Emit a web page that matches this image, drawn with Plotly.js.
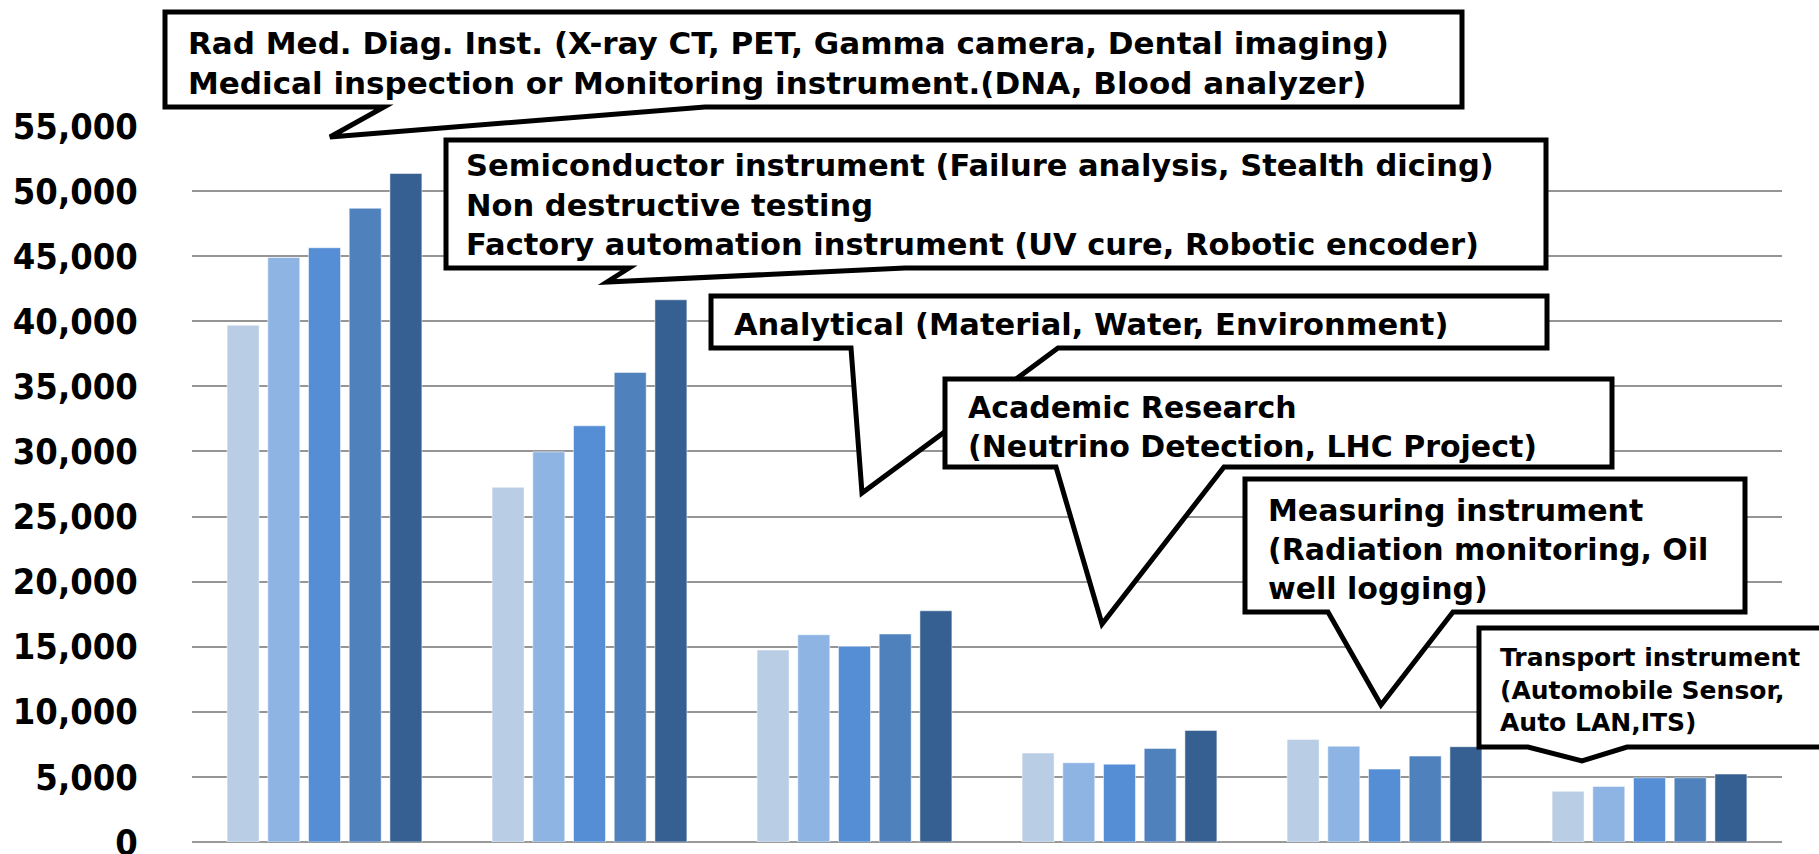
<!DOCTYPE html>
<html>
<head>
<meta charset="utf-8">
<script src="https://cdn.plot.ly/plotly-3.0.1.min.js"></script>
<style>html,body{margin:0;padding:0;background:#fff;}#chart{width:1819px;height:854px;}</style>
</head>
<body>
<div id="chart"></div>
<script>
// ---- data ----
const categories = ['Medical', 'Industrial', 'Analytical', 'Academic', 'Measuring', 'Transport'];
const seriesNames = ['Series 1', 'Series 2', 'Series 3', 'Series 4', 'Series 5'];
const series1 = [39700, 27250, 14750, 6830, 7880, 3890];
const series2 = [44900, 29970, 15920, 6090, 7360, 4270];
const series3 = [45650, 31970, 15030, 5980, 5600, 4930];
const series4 = [48680, 36070, 15980, 7190, 6600, 4930];
const series5 = [51350, 41650, 17760, 8570, 7320, 5220];
const seriesColors = ['#B9CDE5', '#8EB4E3', '#558ED5', '#4F81BD', '#376092'];

const calloutTexts = [
  'Rad Med. Diag. Inst. (X-ray CT, PET, Gamma camera, Dental imaging)<br>Medical inspection or Monitoring instrument.(DNA, Blood analyzer)',
  'Semiconductor instrument (Failure analysis, Stealth dicing)<br>Non destructive testing<br>Factory automation instrument (UV cure, Robotic encoder)',
  'Analytical (Material, Water, Environment)',
  'Academic Research<br>(Neutrino Detection, LHC Project)',
  'Measuring instrument<br>(Radiation monitoring, Oil<br>well logging)',
  'Transport instrument<br>(Automobile Sensor,<br>Auto LAN,ITS)'
];

// ---- layout geometry (pixels) ----
const W = 1819, H = 854;
const M = {l: 192, r: 37, t: 126, b: 12};
const PW = W - M.l - M.r, PH = H - M.t - M.b;
const px = x => (x - M.l) / PW;
const py = y => (H - M.b - y) / PH;

// callout outlines in page pixels
const calloutOutlines = [
  [[165,12],[1462,12],[1462,107],[705,107],[330,137],[384,107],[165,107]],
  [[446,140],[1546,140],[1546,268],[905,268],[607,282],[629,268],[446,268]],
  [[711,296],[1547,296],[1547,348],[1058,348],[862,493],[851,348],[711,348]],
  [[945,379],[1612,379],[1612,467],[1224,467],[1102,624],[1056,467],[945,467]],
  [[1245,479],[1745,479],[1745,612],[1453,612],[1381,705],[1328,612],[1245,612]],
  [[1479,628],[1840,628],[1840,747],[1627,747],[1582,761],[1528,747],[1479,747]]
];
// text: left x, top y, font size
const calloutTextPos = [
  [186, 23, 31], [464, 146, 30.5], [732, 305, 30.5],
  [966, 388, 30], [1266, 491, 30], [1498, 641, 25]
];

const FONT = '"DejaVu Sans", Verdana, sans-serif';
const TICKFONT = '"DejaVu Sans Condensed", "DejaVu Sans", sans-serif';

const allSeries = [series1, series2, series3, series4, series5];
const traces = allSeries.map((vals, i) => ({
  type: 'bar',
  name: seriesNames[i],
  x: categories,
  y: vals,
  marker: {color: seriesColors[i], line: {color: 'rgba(255,255,255,0.5)', width: 1}},
  hoverinfo: 'x+y'
}));

const shapes = calloutOutlines.map(pts => ({
  type: 'path',
  xref: 'paper', yref: 'paper',
  path: 'M ' + pts.map(p => px(p[0]).toFixed(5) + ' ' + py(p[1]).toFixed(5)).join(' L ') + ' Z',
  fillcolor: '#ffffff',
  line: {color: '#000000', width: 5},
  layer: 'above'
}));

const annotations = calloutTexts.map((t, i) => ({
  xref: 'paper', yref: 'paper',
  x: px(calloutTextPos[i][0]), y: py(calloutTextPos[i][1]),
  xanchor: 'left', yanchor: 'top', align: 'left',
  showarrow: false,
  text: t,
  font: {family: FONT, size: calloutTextPos[i][2], color: '#000', weight: 'bold'}
}));

const layout = {
  width: W, height: H,
  margin: M,
  paper_bgcolor: '#ffffff', plot_bgcolor: '#ffffff',
  barmode: 'group', bargap: 0.232, bargroupgap: 0.214,
  showlegend: false,
  xaxis: {showticklabels: false, ticks: '', showgrid: false, zeroline: false, showline: false, fixedrange: true},
  yaxis: {
    range: [0, 55000], dtick: 5000, tickformat: ',d',
    showgrid: true, gridcolor: '#959595', gridwidth: 2,
    zeroline: true, zerolinecolor: '#9a9a9a', zerolinewidth: 2,
    showline: false,
    ticks: 'outside', ticklen: 46, tickcolor: 'rgba(0,0,0,0)',
    ticklabeloverflow: 'allow',
    tickfont: {family: TICKFONT, size: 36, color: '#000', weight: 'bold'},
    fixedrange: true
  },
  shapes: shapes,
  annotations: annotations
};

Plotly.newPlot('chart', traces, layout, {displayModeBar: false, staticPlot: true});
</script>
</body>
</html>
